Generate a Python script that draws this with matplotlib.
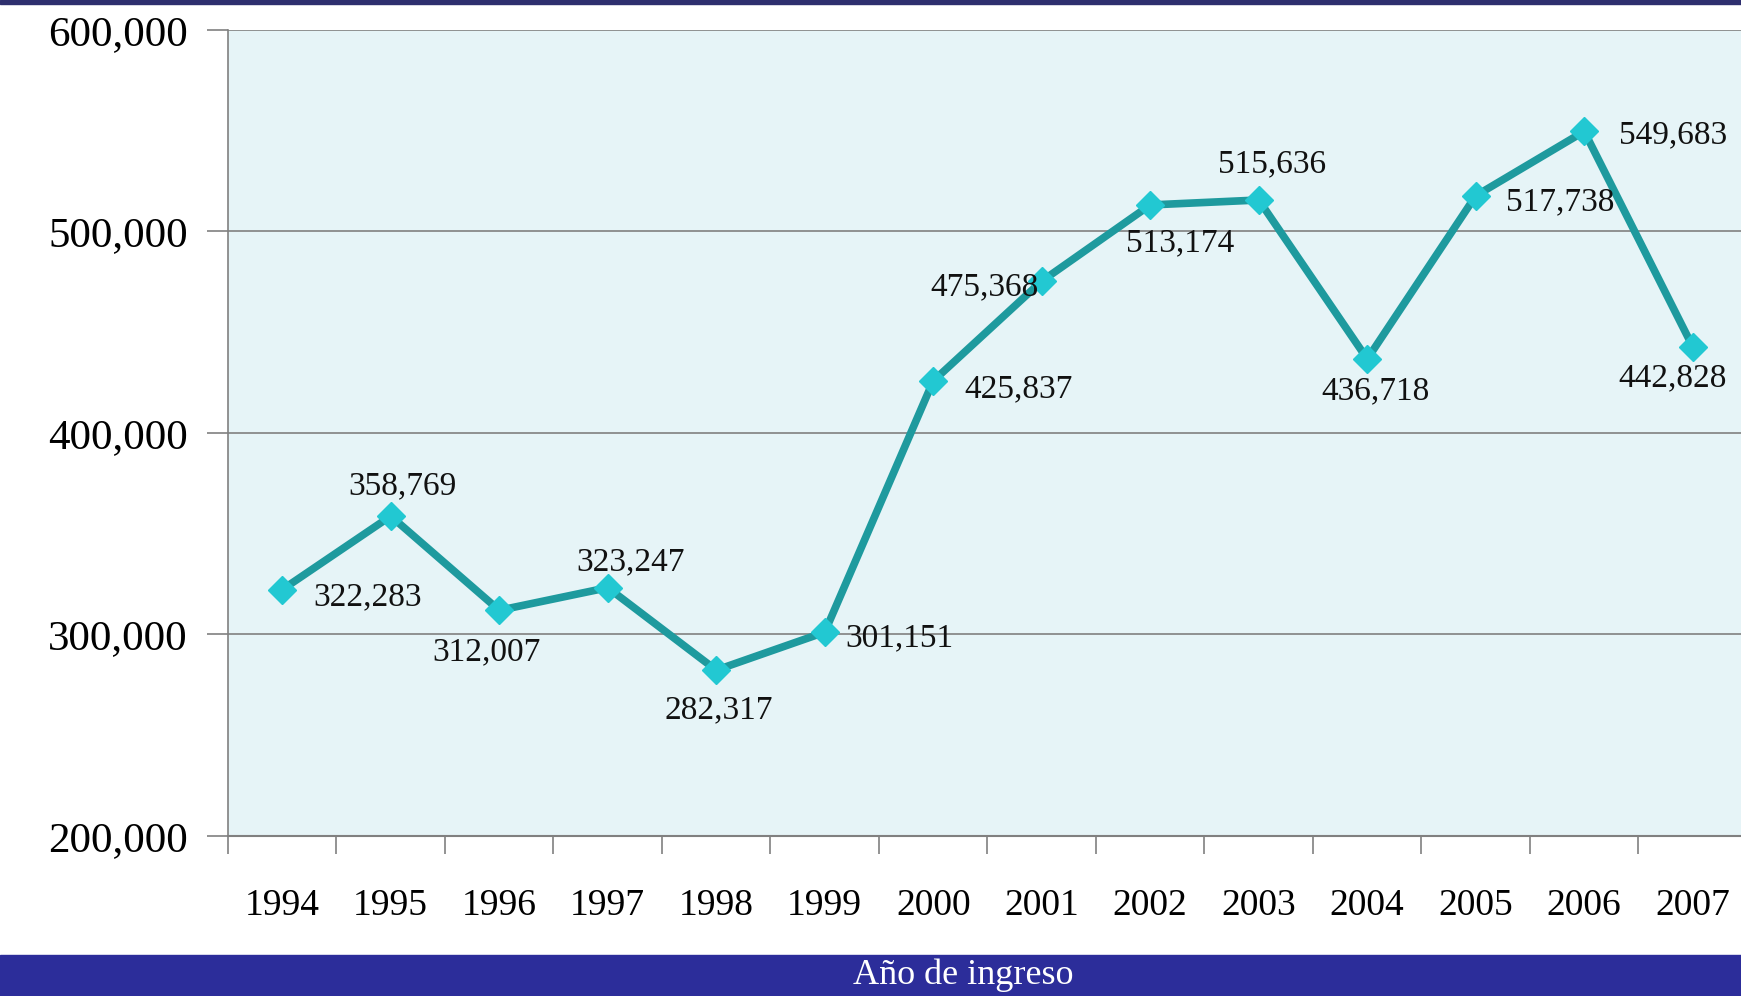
import numpy as np
import matplotlib
matplotlib.use("Agg")
import matplotlib.pyplot as plt
from matplotlib.patches import Rectangle

years = ['1994', '1995', '1996', '1997', '1998', '1999', '2000',
         '2001', '2002', '2003', '2004', '2005', '2006', '2007']
alumnos = [322283, 358769, 312007, 323247, 282317, 301151, 425837,
           475368, 513174, 515636, 436718, 517738, 549683, 442828]
y_ticks = [200000, 300000, 400000, 500000, 600000]

# where each value label sits relative to its point (pixels)
label_offsets = [(85, -7), (12, 30), (-13, -42), (23, 26), (3, -40),
                 (75, -6), (85, -8), (-57, -6), (30, -38), (13, 36),
                 (8, -32), (84, -6), (89, -4), (-20, -31)]

LINE = '#1E9A9E'
MARK = '#22C8D2'
BG = '#E6F4F7'
SERIF = ['Liberation Serif', 'DejaVu Serif']

fig = plt.figure(figsize=(17.41, 9.96), dpi=100)
fig.patch.set_facecolor('white')

# top thin band and bottom band like the slide
fig.add_artist(Rectangle((0, 0.996), 1, 0.004, transform=fig.transFigure,
                         color='#2E2F6E', zorder=0))
fig.add_artist(Rectangle((0, 0), 1, 0.041, transform=fig.transFigure,
                         color='#2C2D9A', zorder=0))

ax = fig.add_axes([228 / 1741, 1 - 836 / 996, 1519 / 1741, 806 / 996])
ax.set_facecolor(BG)

x = np.arange(len(years))
ax.plot(x, alumnos, color=LINE, lw=5.5, marker='D', ms=14,
        mfc=MARK, mec=MARK, zorder=3, solid_joinstyle='miter')

for xi, v, (dx, dy) in zip(x, alumnos, label_offsets):
    ax.annotate(f'{v:,}', (xi, v), xytext=(dx, dy), textcoords='offset pixels',
                ha='center', va='center', fontsize=24, family=SERIF,
                color='#111111', zorder=4)

ax.set_xlim(-0.5, len(years) - 0.5)
ax.set_ylim(200000, 600000)
ax.set_yticks(y_ticks)
ax.set_yticklabels([f'{v:,}' for v in y_ticks], fontsize=31, family=SERIF)
ax.yaxis.grid(True, color='#808080', lw=1.2)
ax.set_axisbelow(True)

ax.set_xticks(x)
ax.set_xticklabels(years, fontsize=27, family=SERIF)
ax.set_xticks(np.arange(len(years) + 1) - 0.5, minor=True)
ax.tick_params(axis='x', which='major', length=0, pad=38)
ax.tick_params(axis='x', which='minor', length=13, color='#808080', width=1.2)
ax.tick_params(axis='y', length=15, color='#808080', width=1.2, pad=14)

for side in ['top', 'right']:
    ax.spines[side].set_visible(False)
ax.spines['left'].set_color('#808080')
ax.spines['bottom'].set_color('#808080')
ax.spines['left'].set_linewidth(1.2)
ax.spines['bottom'].set_linewidth(1.5)

fig.text(0.553, 0.021, 'Año de ingreso', ha='center', va='center',
         fontsize=26, family=SERIF, color='white')

fig.savefig('out.png', dpi=100)
